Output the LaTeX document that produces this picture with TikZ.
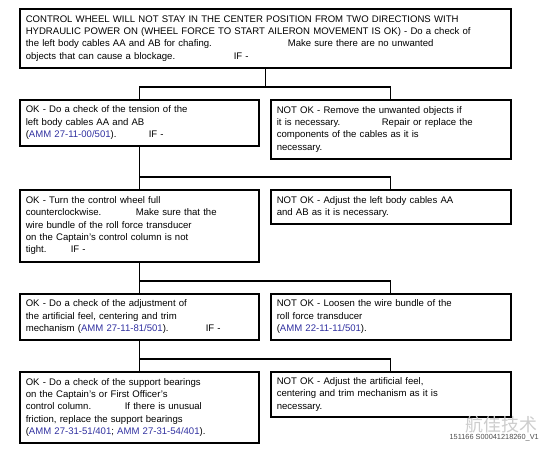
\documentclass[tikz,border=0pt]{standalone}
\usepackage{fontspec}
\setmainfont{Liberation Sans}
\newfontfamily\cjkfont{Noto Sans CJK SC}
\definecolor{refblue}{RGB}{48,48,160}
\definecolor{markgray}{RGB}{205,205,205}
\newcommand{\amm}[1]{\textcolor{refblue}{#1}}
\newcommand{\padto}[2]{\makebox[#1][l]{#2}}
\tikzset{
  stepbox/.style={draw, line width=1.6bp, anchor=north west, align=left,
    inner xsep=6bp, inner ysep=0bp, font=\fontsize{9.6}{12.4}\selectfont},
  leftbox/.style={stepbox, text width=227bp},
  rightbox/.style={stepbox, text width=228bp},
  link/.style={line width=1.3bp}
}
\begin{document}
\begin{tikzpicture}[x=1bp,y=-1bp]
        \useasboundingbox (0,0) rectangle (553,453);
        % Boxes %
        \node [stepbox, text width=479bp, minimum height=59bp] (top) at (19,8)
          {CONTROL WHEEL WILL NOT STAY IN THE CENTER POSITION FROM TWO DIRECTIONS WITH\\
           HYDRAULIC POWER ON (WHEEL FORCE TO START AILERON MOVEMENT IS OK) - Do a check of\\
           \padto{262bp}{the left body cables AA and AB for chafing.}Make sure there are no unwanted\\
           \padto{208bp}{objects that can cause a blockage.}IF -};
        \node [leftbox, minimum height=46bp] (okA) at (19,99)
          {OK - Do a check of the tension of the\\
           left body cables AA and AB\\
           \padto{123bp}{(\amm{AMM 27-11-00/501}).}IF -};
        \node [rightbox, minimum height=59bp] (nokA) at (270,99)
          {NOT OK - Remove the unwanted objects if\\
           \padto{105bp}{it is necessary.}Repair or replace the\\
           components of the cables as it is\\
           necessary.};
        \node [leftbox, minimum height=72bp] (okB) at (19,189)
          {OK - Turn the control wheel full\\
           \padto{110bp}{counterclockwise.}Make sure that the\\
           wire bundle of the roll force transducer\\
           on the Captain's control column is not\\
           \padto{45bp}{tight.}IF -};
        \node [rightbox, minimum height=34bp] (nokB) at (270,189)
          {NOT OK - Adjust the left body cables AA\\
           and AB as it is necessary.};
        \node [leftbox, minimum height=46bp] (okC) at (19,293)
          {OK - Do a check of the adjustment of\\
           the artificial feel, centering and trim\\
           \padto{180bp}{mechanism (\amm{AMM 27-11-81/501}).}IF -};
        \node [rightbox, minimum height=46bp] (nokC) at (270,293)
          {NOT OK - Loosen the wire bundle of the\\
           roll force transducer\\
           (\amm{AMM 22-11-11/501}).};
        \node [leftbox, minimum height=71bp] (okD) at (19,371)
          {OK - Do a check of the support bearings\\
           on the Captain's or First Officer's\\
           \padto{99bp}{control column.}If there is unusual\\
           friction, replace the support bearings\\
           (\amm{AMM 27-31-51/401}; \amm{AMM 27-31-54/401}).};
        \node [rightbox, minimum height=45bp] (nokD) at (270,371)
          {NOT OK - Adjust the artificial feel,\\
           centering and trim mechanism as it is\\
           necessary.};
        % Links %
        \draw [link] (top.south) |- ([yshift=12bp]okA.north) -- (okA.north)
          ([yshift=12bp]okA.north) -| (nokA.north);
        \draw [link] (okA.south) -- (okB.north) ([yshift=12bp]okB.north) -| (nokB.north);
        \draw [link] (okB.south) -- (okC.north) ([yshift=12bp]okC.north) -| (nokC.north);
        \draw [link] (okC.south) -- (okD.north) ([yshift=12bp]okD.north) -| (nokD.north);
        % Marks %
        \node [text=markgray, font=\cjkfont\fontsize{18}{18}\selectfont, anchor=west, inner sep=0pt] (mark) at (465,425) {航佳技术};
        \node [text=black!70, font=\fontsize{7.4}{7.4}\selectfont, anchor=north east, inner sep=0pt] (docid) at (539,434) {151166 S00041218260\_V1};
\end{tikzpicture}
\end{document}
